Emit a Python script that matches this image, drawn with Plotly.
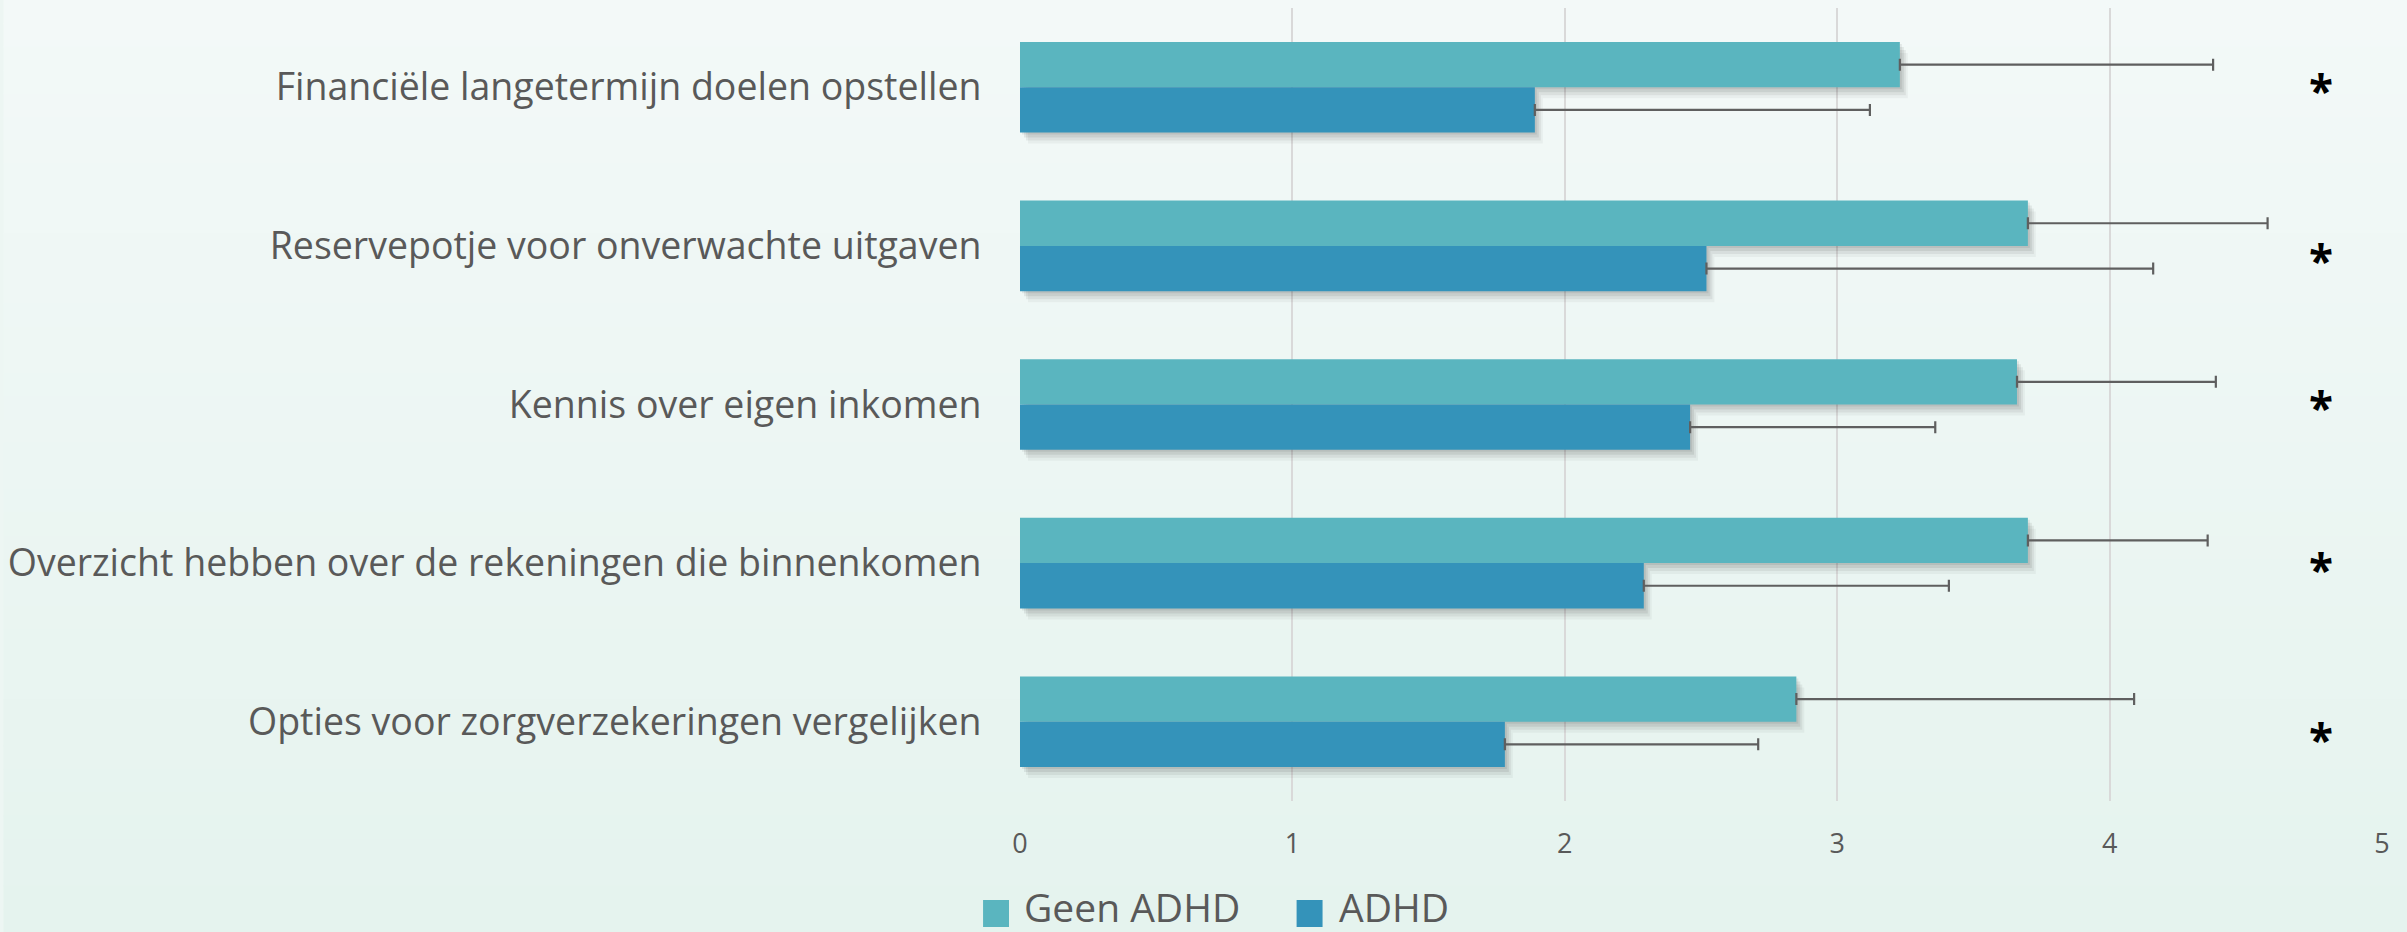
import plotly.graph_objects as go

categories = [
    "Financiële langetermijn doelen opstellen",
    "Reservepotje voor onverwachte uitgaven",
    "Kennis over eigen inkomen",
    "Overzicht hebben over de rekeningen die binnenkomen",
    "Opties voor zorgverzekeringen vergelijken",
]
geen_adhd = [3.23, 3.70, 3.66, 3.70, 2.85]
geen_adhd_err = [1.15, 0.88, 0.73, 0.66, 1.24]
adhd = [1.89, 2.52, 2.46, 2.29, 1.78]
adhd_err = [1.23, 1.64, 0.90, 1.12, 0.93]
significant = ["*", "*", "*", "*", "*"]
star_x = 4.775
x_ticks = [0, 1, 2, 3, 4, 5]

W, H = 2407, 932
L, R, T, B = 1018, 25, 8, 131
PW, PH = W - L - R, H - T - B

COL_GEEN = "#5AB5BF"
COL_ADHD = "#3493BA"
TXT = "#595959"
FONT = "Open Sans"

cat_px = PH / len(categories)
bw = 45.3 / cat_px  # bar thickness in category units
xunit = PW / 5.0

fig = go.Figure()

# soft drop shadows
for dx, dy, a in [(2, 2, 0.07), (4, 5, 0.07), (6, 8, 0.06), (8, 11, 0.04)]:
    for vals, off in [(geen_adhd, -bw), (adhd, 0.0)]:
        fig.add_trace(go.Bar(
            y=categories, x=vals, orientation="h",
            base=dx / xunit, offset=off + dy / cat_px, width=bw,
            marker=dict(color=f"rgba(0,0,0,{a})", line=dict(width=0)),
            showlegend=False, hoverinfo="skip",
        ))

err_style = dict(type="data", symmetric=False, color="#5f5f5f", thickness=2.2, width=6)
fig.add_trace(go.Bar(
    name="Geen ADHD", y=categories, x=geen_adhd, orientation="h",
    offset=-bw, width=bw, marker=dict(color=COL_GEEN, line=dict(width=0)),
    error_x=dict(array=geen_adhd_err, arrayminus=[0] * len(geen_adhd), **err_style),
    showlegend=False,
))
fig.add_trace(go.Bar(
    name="ADHD", y=categories, x=adhd, orientation="h",
    offset=0.0, width=bw, marker=dict(color=COL_ADHD, line=dict(width=0)),
    error_x=dict(array=adhd_err, arrayminus=[0] * len(adhd), **err_style),
    showlegend=False,
))

star_shift = [2, -9, 3, -1, -12]
for c, s, ys in zip(categories, significant, star_shift):
    fig.add_annotation(x=star_x, y=c, text=f"<b>{s}</b>", showarrow=False,
                       xanchor="center", yanchor="middle", yshift=ys - 5,
                       font=dict(family=FONT, size=44, color="#000000"))

def px_x(p):
    return (p - L) / PW

def px_y(p):
    return (H - B - p) / PH

# background gradient bands
top = (243, 249, 248)
bot = (229, 243, 238)
n = 40
for i in range(n):
    t = i / (n - 1)
    c = tuple(round(top[k] + (bot[k] - top[k]) * t) for k in range(3))
    fig.add_shape(type="rect", xref="paper", yref="paper", layer="below",
                  x0=px_x(0), x1=px_x(W), y0=px_y(i * H / n), y1=px_y((i + 1) * H / n + 1),
                  fillcolor=f"rgb{c}", line=dict(width=0))

# legend
for name, col, sx, tx in [("Geen ADHD", COL_GEEN, 981, 1020), ("ADHD", COL_ADHD, 1295, 1335)]:
    fig.add_shape(type="rect", xref="paper", yref="paper",
                  x0=px_x(sx), x1=px_x(sx + 26), y0=px_y(900), y1=px_y(927),
                  fillcolor=col, line=dict(width=0))
    fig.add_annotation(xref="paper", yref="paper", x=px_x(tx), y=px_y(906),
                       text=name, showarrow=False, xanchor="left", yanchor="middle",
                       font=dict(family=FONT, size=39, color=TXT))

fig.update_layout(
    width=W, height=H, barmode="overlay",
    margin=dict(l=L, r=R, t=T, b=B, pad=0),
    paper_bgcolor="#edf6f3", plot_bgcolor="rgba(0,0,0,0)",
    showlegend=False,
    font=dict(family=FONT, color=TXT),
)
fig.update_xaxes(range=[0, 5], tickvals=x_ticks, showgrid=True, gridcolor="#d9d9d9",
                 gridwidth=2, zeroline=False, showline=False,
                 ticks="outside", ticklen=19, tickcolor="rgba(0,0,0,0)",
                 tickfont=dict(family=FONT, size=27, color=TXT), fixedrange=True)
fig.update_yaxes(autorange="reversed", type="category", showgrid=False, zeroline=False,
                 showline=False, ticks="outside", ticklen=30, tickcolor="rgba(0,0,0,0)",
                 tickfont=dict(family=FONT, size=37.5, color=TXT), fixedrange=True)

fig.write_html("out.html", config={"displayModeBar": False},
               post_script="document.body.style.margin='0px';document.body.style.overflow='hidden';")
